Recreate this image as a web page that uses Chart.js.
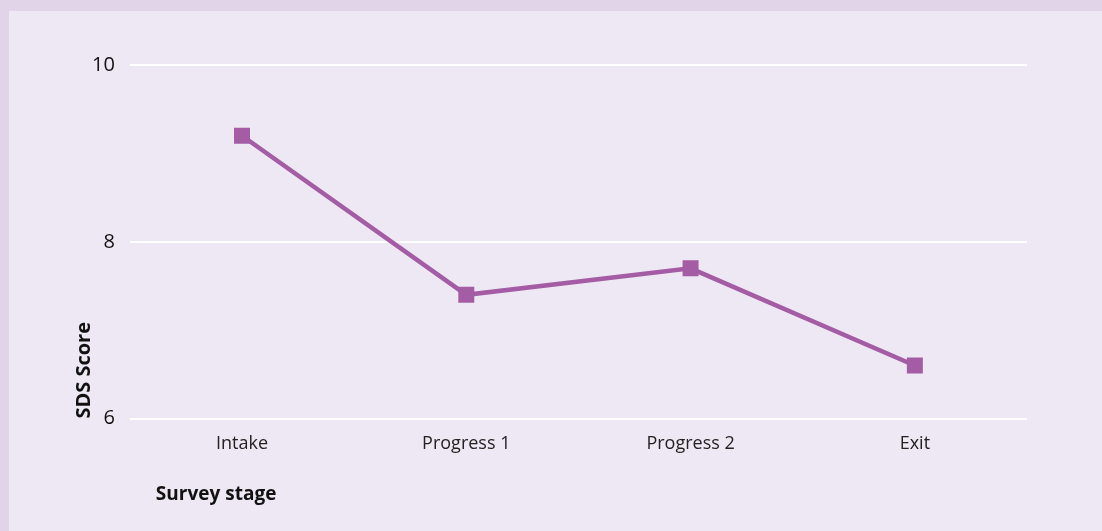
<!DOCTYPE html>
<html lang="en">
<head>
    <meta charset="UTF-8">
    <title>SDS Score by Survey stage</title>
    <script src="https://cdn.jsdelivr.net/npm/chart.js"></script>
    <style>
        body {
            margin: 0;
            padding: 0;
            background-color: #e1d4e8;
            width: 1102px;
            height: 531px;
            overflow: hidden;
        }

        #frame {
            position: absolute;
            left: 9px;
            top: 11px;
            width: 1093px;
            height: 520px;
            background-color: #ede8f3;
        }
    </style>
</head>
<body>
    <div id="frame">
        <canvas id="chart" width="1093" height="520"></canvas>
    </div>

    <script>
        // Chart data
        const stages = ['Intake', 'Progress 1', 'Progress 2', 'Exit'];
        const sdsScores = [9.2, 7.4, 7.7, 6.6];
        const yTicks = [6, 8, 10];

        const xTitleText = 'Survey stage';

        // draws the x axis title a little in from the left edge of the plot
        const xTitlePlugin = {
            id: 'xTitle',
            afterDraw(chart) {
                const ctx = chart.ctx;
                const area = chart.chartArea;
                ctx.save();
                ctx.font = 'bold 19px "Open Sans", sans-serif';
                ctx.fillStyle = '#111111';
                ctx.textAlign = 'left';
                ctx.textBaseline = 'middle';
                ctx.fillText(xTitleText, area.left + 26, area.bottom + 76);
                ctx.restore();
            }
        };

        const ctx = document.getElementById('chart').getContext('2d');
        new Chart(ctx, {
            type: 'line',
            data: {
                labels: stages,
                datasets: [{
                    label: 'SDS Score',
                    data: sdsScores,
                    borderColor: '#a45ca4',
                    backgroundColor: '#a45ca4',
                    borderWidth: 4.5,
                    pointStyle: 'rect',
                    pointRadius: 11.3,
                    pointHoverRadius: 11.3,
                    pointBorderWidth: 0,
                    tension: 0
                }]
            },
            options: {
                responsive: false,
                animation: false,
                layout: {
                    padding: { left: 48, top: 54, right: 75, bottom: 18 }
                },
                plugins: {
                    legend: { display: false },
                    tooltip: { enabled: false }
                },
                scales: {
                    x: {
                        offset: true,
                        grid: { display: false },
                        border: { display: false },
                        ticks: {
                            padding: 6,
                            color: '#222222',
                            font: { family: 'Open Sans', size: 18 }
                        },
                        title: {
                            display: true,
                            text: ' ',
                            padding: { top: 30, bottom: 0 },
                            font: { family: 'Open Sans', size: 19, weight: 'bold' }
                        }
                    },
                    y: {
                        min: 6,
                        max: 10,
                        afterBuildTicks(scale) {
                            scale.ticks = yTicks.map(v => ({ value: v }));
                        },
                        grid: {
                            color: '#ffffff',
                            lineWidth: 2,
                            drawTicks: false
                        },
                        border: { display: false },
                        ticks: {
                            padding: 15,
                            color: '#111111',
                            font: { family: 'Open Sans', size: 20 }
                        },
                        title: {
                            display: true,
                            text: 'SDS Score',
                            align: 'start',
                            color: '#111111',
                            padding: { top: 17, bottom: -17 },
                            font: { family: 'Open Sans', size: 20, weight: 'bold', lineHeight: 1 }
                        }
                    }
                }
            },
            plugins: [xTitlePlugin]
        });
    </script>
</body>
</html>
